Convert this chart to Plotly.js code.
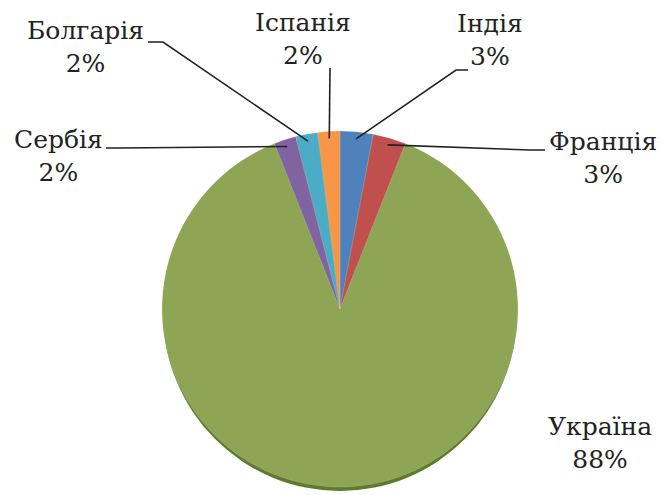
<!DOCTYPE html>
<html>
<head>
<meta charset="utf-8">
<script src="https://cdn.plot.ly/plotly-3.0.1.min.js"></script>
<style>html,body{margin:0;padding:0;background:#fff;}#chart{width:662px;height:495px;}</style>
</head>
<body>
<div id="chart"></div>
<script>
// Data
const countries = ["Індія", "Франція", "Україна", "Сербія", "Болгарія", "Іспанія"];
const shares = [3, 3, 88, 2, 2, 2];
const percentLabels = ["3%", "3%", "88%", "2%", "2%", "2%"];

// Styles / layout constants
const colors = ["#4F81BD", "#C0504D", "#8DA554", "#8064A2", "#4BACC6", "#F79646"];
const W = 662, H = 495;
const CX = 340, CY = 309, R = 178;
// label text centres (px) and leader start/elbow (px); null = no leader
const labelPos = [[490, 40], [603, 158], [600, 443], [58, 156], [85, 47], [303, 39]];
const leaderStart = [[468, 70], [545, 150], null, [106, 148], [148, 42], [330, 68]];
const leaderElbow = [[456, 70], [530, 150], null, [120, 148], [163, 42], [330, 68]];

const px = x => x / W;
const py = y => 1 - y / H;

const total = shares.reduce((a, b) => a + b, 0);
let cum = 0;
const annotations = [];
const shapes = [];
// darker rim below the pie to suggest the 3D edge
shapes.push({
  type: 'circle', xref: 'paper', yref: 'paper', layer: 'below',
  x0: px(CX - R + 1), x1: px(CX + R - 1), y0: py(CY + R + 4), y1: py(CY - R + 4),
  fillcolor: '#5E7A2C', line: {width: 0}
});
countries.forEach((c, i) => {
  const mid = (cum + shares[i] / 2) / total;
  cum += shares[i];
  const th = mid * 2 * Math.PI;
  const ex = CX + R * 0.96 * Math.sin(th);
  const ey = CY - R * 0.96 * Math.cos(th);
  annotations.push({
    xref: 'paper', yref: 'paper', x: px(labelPos[i][0]), y: py(labelPos[i][1]),
    xanchor: 'center', yanchor: 'middle', showarrow: false, align: 'center',
    text: c + '<br>' + percentLabels[i],
    font: {family: 'DejaVu Serif', size: 25, color: '#222'}
  });
  if (leaderStart[i]) {
    const s = leaderStart[i], e = leaderElbow[i];
    shapes.push({
      type: 'path', xref: 'paper', yref: 'paper',
      path: `M ${px(s[0])} ${py(s[1])} L ${px(e[0])} ${py(e[1])} L ${px(ex)} ${py(ey)}`,
      line: {color: '#222', width: 1.6}
    });
  }
});

const trace = {
  type: 'pie',
  labels: countries,
  values: shares,
  sort: false,
  direction: 'clockwise',
  rotation: 0,
  textinfo: 'none',
  hoverinfo: 'label+percent',
  marker: {colors: colors, line: {color: 'rgba(255,255,255,0.3)', width: 0.5}},
  domain: {x: [(CX - R) / W, (CX + R) / W], y: [py(CY + R), py(CY - R)]},
  showlegend: false
};

const layout = {
  width: W, height: H,
  margin: {l: 0, r: 0, t: 0, b: 0},
  paper_bgcolor: '#fff',
  font: {family: 'DejaVu Serif'},
  showlegend: false,
  annotations: annotations,
  shapes: shapes
};

Plotly.newPlot('chart', [trace], layout, {displayModeBar: false, staticPlot: true});
</script>
</body>
</html>
